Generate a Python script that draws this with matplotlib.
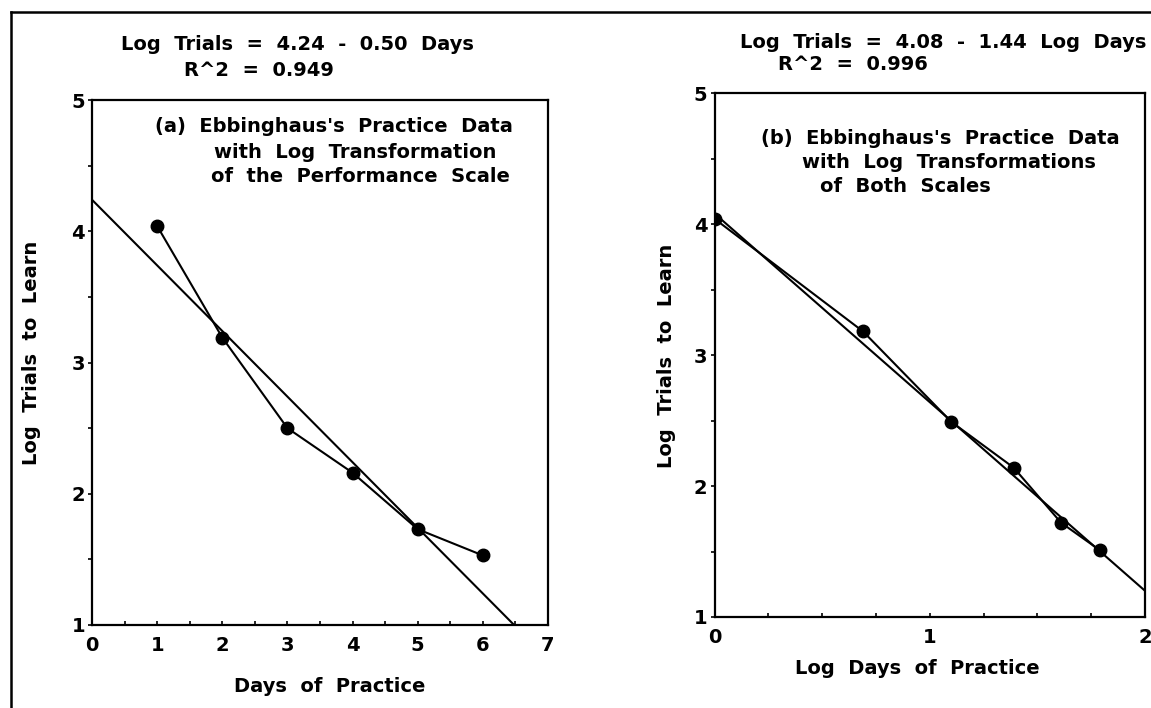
import numpy as np
import matplotlib
matplotlib.use('Agg')
import matplotlib.pyplot as plt
from matplotlib.lines import Line2D
from matplotlib.ticker import MultipleLocator

plt.rcParams['font.family'] = ['DejaVu Sans']
plt.rcParams['font.weight'] = 'bold'

# panel (a): log trials vs days
days = [1, 2, 3, 4, 5, 6]
log_trials = [4.04, 3.19, 2.50, 2.16, 1.73, 1.53]
fit_a = (4.24, -0.50)

# panel (b): log trials vs log days
log_days = [0.0, 0.69, 1.10, 1.39, 1.61, 1.79]
log_trials_b = [4.04, 3.18, 2.49, 2.14, 1.72, 1.51]
fit_b = (4.08, -1.44)

W, H = 1151, 708
fig = plt.figure(figsize=(W / 100, H / 100), dpi=100)
fs = 14


def px(x, y):
    return x / W, 1 - y / H


def label(x, y, s, **kw):
    fig.text(*px(x, y), s, ha='center', va='center', fontsize=fs, fontweight='bold', **kw)


def style(ax):
    for s in ax.spines.values():
        s.set_linewidth(1.6)
    ax.tick_params(axis='y', which='both', direction='out', length=3, width=1.2, labelsize=fs, pad=2)
    ax.tick_params(axis='x', which='both', direction='in', length=3, width=1.2, labelsize=fs, pad=8)
    ax.yaxis.set_major_locator(MultipleLocator(1))
    ax.yaxis.set_minor_locator(MultipleLocator(0.5))


# left panel
ax1 = fig.add_axes([92 / W, 1 - 625 / H, 456 / W, 525 / H])
ax1.set_xlim(0, 7)
ax1.set_ylim(1, 5)
xa = np.linspace(0, 7, 50)
ax1.plot(xa, fit_a[0] + fit_a[1] * xa, color='black', lw=1.5)
ax1.plot(days, log_trials, color='black', lw=1.5, marker='o', ms=9)
ax1.xaxis.set_major_locator(MultipleLocator(1))
ax1.xaxis.set_minor_locator(MultipleLocator(0.5))
style(ax1)

label(297, 45, 'Log  Trials  =  4.24  -  0.50  Days')
label(259, 70, 'R^2  =  0.949')
label(334, 127, "(a)  Ebbinghaus's  Practice  Data")
label(355, 153, 'with  Log  Transformation')
label(360, 177, 'of  the  Performance  Scale')
label(330, 687, 'Days  of  Practice')
label(32, 353, 'Log  Trials  to  Learn', rotation=90)

# right panel
ax2 = fig.add_axes([714.5 / W, 1 - 617 / H, 430.5 / W, 524 / H])
ax2.set_xlim(0, 2)
ax2.set_ylim(1, 5)
xb = np.linspace(0, 2, 50)
ax2.plot(xb, fit_b[0] + fit_b[1] * xb, color='black', lw=1.5)
ax2.plot(log_days, log_trials_b, color='black', lw=1.5, marker='o', ms=9)
ax2.xaxis.set_major_locator(MultipleLocator(1))
ax2.xaxis.set_minor_locator(MultipleLocator(0.25))
style(ax2)

label(943, 42, 'Log  Trials  =  4.08  -  1.44  Log  Days')
label(853, 65, 'R^2  =  0.996')
label(940, 138, "(b)  Ebbinghaus's  Practice  Data")
label(949, 163, 'with  Log  Transformations')
label(905, 187, 'of  Both  Scales')
label(917, 668, 'Log  Days  of  Practice')
label(666, 356, 'Log  Trials  to  Learn', rotation=90)

# outer frame lines
fig.add_artist(Line2D([11 / W, 1.0], [1 - 12 / H, 1 - 12 / H], transform=fig.transFigure, color='black', lw=1.8))
fig.add_artist(Line2D([11 / W, 11 / W], [0, 1 - 12 / H], transform=fig.transFigure, color='black', lw=1.8))

plt.savefig('out.png', dpi=100)
